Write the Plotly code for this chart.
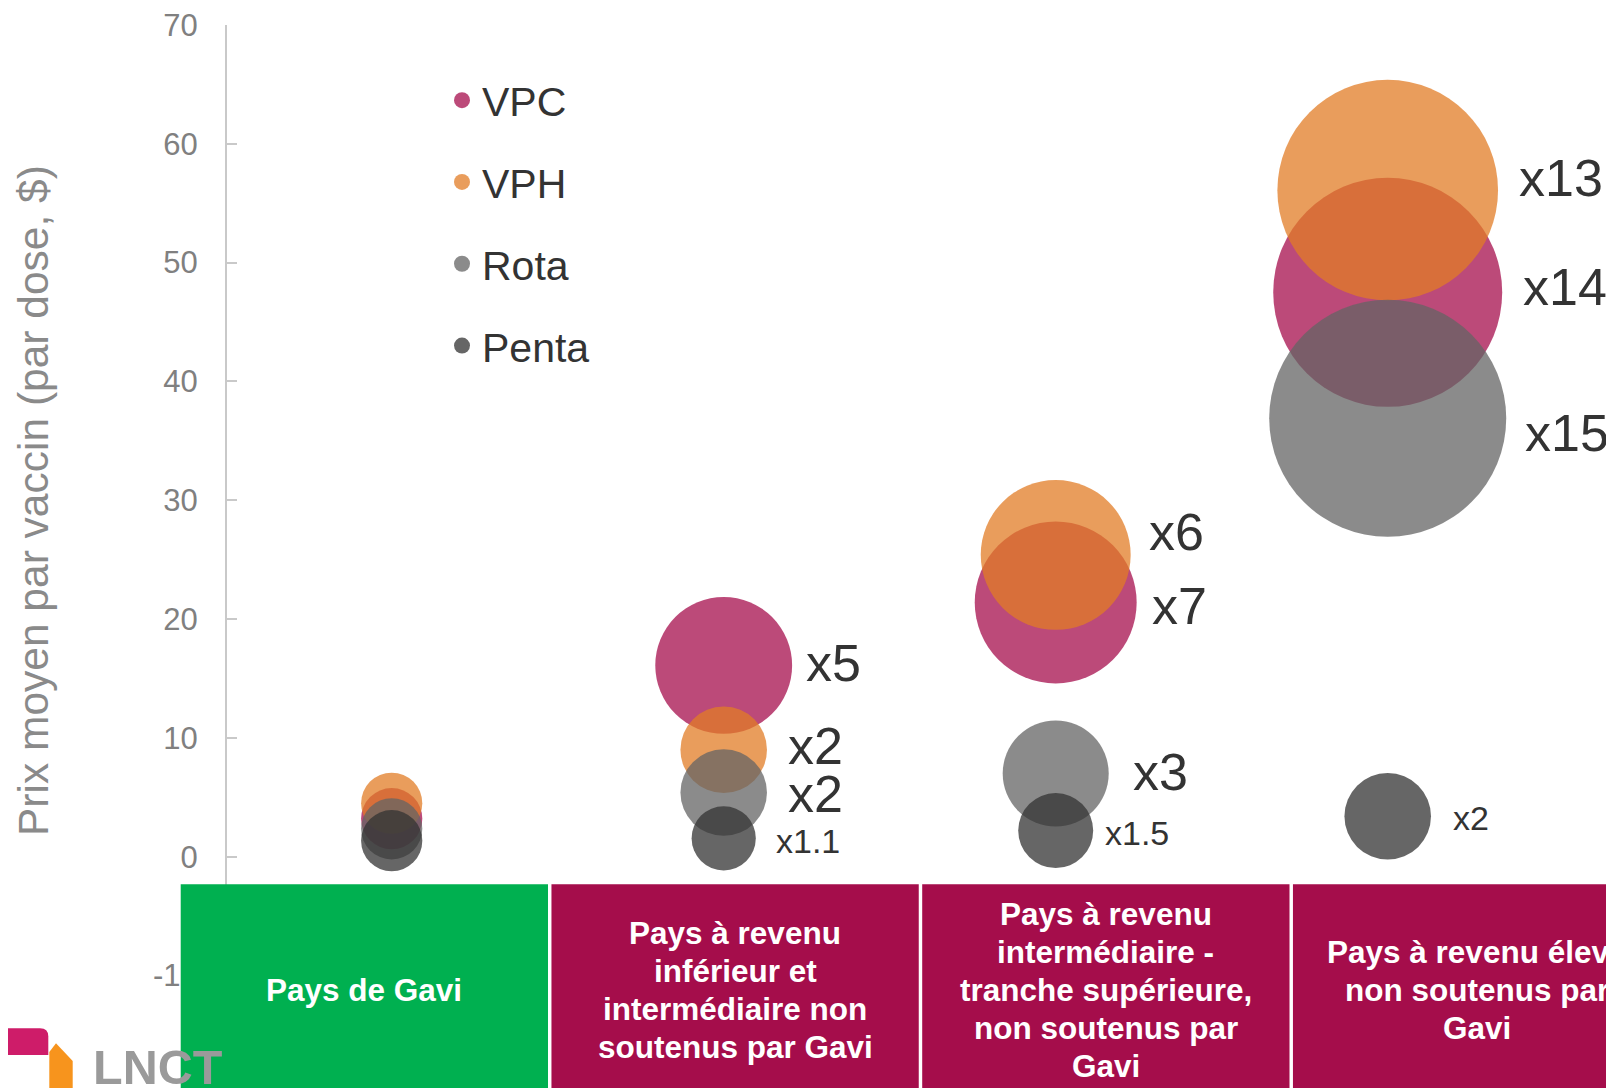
import plotly.graph_objects as go

# ---------------- data ----------------
group_pos = [1, 2, 3, 4]            # Gavi, LMIC non Gavi, UMIC non Gavi, HIC non Gavi
series_names = ["VPC", "VPH", "Rota", "Penta"]

vpc_price = [3.2, 16.1, 21.4, 47.5]
vph_price = [4.5, 9.0, 25.4, 56.1]
rota_price = [2.35, 5.4, 7.0, 36.9]
penta_price = [1.35, 1.55, 2.2, 3.4]

vpc_mult = [1, 5, 7, 14]
vph_mult = [1, 2, 6, 13]
rota_mult = [1, 2, 3, 15]
penta_mult = [1, 1.1, 1.5, 2]

vpc_labels = ["", "x5", "x7", "x14"]
vph_labels = ["", "x2", "x6", "x13"]
rota_labels = ["", "x2", "x3", "x15"]
penta_labels = ["", "x1.1", "x1.5", "x2"]

box_labels = [
    ["Pays de Gavi"],
    ["Pays à revenu", "inférieur et", "intermédiaire non", "soutenus par Gavi"],
    ["Pays à revenu", "intermédiaire -", "tranche supérieure,", "non soutenus par", "Gavi"],
    ["Pays à revenu élevé", "non soutenus par", "Gavi"],
]

y_tickvals = [-10, 0, 10, 20, 30, 40, 50, 60, 70]
y_title = "Prix moyen par vaccin (par dose, $)"
logo_text = "LNCT"

# ---------------- style ----------------
W, H = 1614, 1088
OFF = 8                     # page body margin of the browser
MT = 25 - OFF
FONT = "Liberation Sans, Arial, sans-serif"
colors = ["#A60E4C", "#E27C26", "#646464", "#333333"]
box_colors = ["#00B050", "#A50D4B", "#A50D4B", "#A50D4B"]
BUBBLE_K = 100.0           # size scale (keeps legend markers at max size)
DIAM_UNIT = 61.2           # px diameter for multiplier 1

# label offsets in px relative to bubble center (dx right, dy down)
label_dx = {
    "VPC": [0, 82, 95.8, 135.5],
    "VPH": [0, 64, 93.4, 131.5],
    "Rota": [0, 64, 77.4, 137.2],
    "Penta": [0, 52.3, 49.1, 65.5],
}
label_dy = {
    "VPC": [0, -2, 4, -5],
    "VPH": [0, -4, -23, -12],
    "Rota": [0, 1, -2, 15],
    "Penta": [0, 3, 2, 2],
}
label_size = {"VPC": 52, "VPH": 52, "Rota": 52, "Penta": 34}

box_left0, box_pitch, box_width = 0.3645, 1.1167, 1.1063
box_top, box_bottom = -2.32, -22.0
box_text_y = -11.22
box_line_px = 37.8

x_range = [-0.1557, 4.7057]
y_range = [-20.14, 70.001]


def pxx(px):
    return (px - OFF) / W


def pxy(py):
    return (H - (py - OFF)) / (H - MT)


prices = [vpc_price, vph_price, rota_price, penta_price]
mults = [vpc_mult, vph_mult, rota_mult, penta_mult]
labels = [vpc_labels, vph_labels, rota_labels, penta_labels]

fig = go.Figure()
for i, name in enumerate(series_names):
    fig.add_trace(go.Scatter(
        x=group_pos, y=prices[i], mode="markers", name=name,
        legendgroup=name,
        marker=dict(
            size=[m * BUBBLE_K for m in mults[i]],
            sizemode="area", sizeref=2 * BUBBLE_K / DIAM_UNIT ** 2,
            color=colors[i], opacity=0.75, line=dict(width=0),
        ),
        hoverinfo="skip",
    ))

annotations = []
# multiplier labels
for i, name in enumerate(series_names):
    for j, g in enumerate(group_pos):
        if not labels[i][j]:
            continue
        annotations.append(dict(
            x=g, y=prices[i][j], xref="x", yref="y", text=labels[i][j],
            showarrow=False, xanchor="left", yanchor="middle",
            xshift=label_dx[name][j] - 2, yshift=-label_dy[name][j],
            font=dict(family=FONT, size=label_size[name], color="#333333"),
        ))

shapes = []
# category boxes
for k, lines in enumerate(box_labels):
    x0 = box_left0 + k * box_pitch
    shapes.append(dict(type="rect", xref="x", yref="y", x0=x0, x1=x0 + box_width,
                       y0=box_bottom, y1=box_top, fillcolor=box_colors[k],
                       line=dict(width=0), layer="above"))
    n = len(lines)
    for li, t in enumerate(lines):
        annotations.append(dict(
            x=x0 + box_width / 2, y=box_text_y, xref="x", yref="y", text=f"<b>{t}</b>",
            showarrow=False, xanchor="center", yanchor="middle",
            yshift=-(li - (n - 1) / 2) * box_line_px,
            font=dict(family=FONT, size=31.5, color="#FFFFFF"),
        ))

# y-axis title
annotations.append(dict(
    x=pxx(33.7), y=pxy(500.3), xref="paper", yref="paper", text=y_title,
    textangle=-90, showarrow=False, xanchor="center", yanchor="middle",
    font=dict(family=FONT, size=42.5, color="#8a8a8a"),
))

# logo
pink_path = (f"M {pxx(-5)},{pxy(1028.3)} L {pxx(40)},{pxy(1028.3)} "
             f"Q {pxx(48.3)},{pxy(1028.3)} {pxx(48.3)},{pxy(1036.5)} "
             f"L {pxx(48.3)},{pxy(1055)} L {pxx(-5)},{pxy(1055)} Z")
shapes.append(dict(type="path", xref="paper", yref="paper", path=pink_path,
                   fillcolor="#CE1C69", line=dict(width=0), layer="above"))
orange_path = (f"M {pxx(49.3)},{pxy(1052)} L {pxx(56)},{pxy(1043.3)} "
               f"L {pxx(72.7)},{pxy(1061)} L {pxx(72.7)},{pxy(1100)} "
               f"L {pxx(49.3)},{pxy(1100)} Z")
shapes.append(dict(type="path", xref="paper", yref="paper", path=orange_path,
                   fillcolor="#F7941D", line=dict(width=0), layer="above"))
annotations.append(dict(
    x=pxx(91.3), y=pxy(1037.5), xref="paper", yref="paper", text=f"<b>{logo_text}</b>",
    showarrow=False, xanchor="left", yanchor="top",
    font=dict(family=FONT, size=48.5, color="#9A9A9A"),
))

fig.update_layout(
    width=W, height=H, autosize=False,
    margin=dict(l=0, r=0, t=MT, b=0, pad=0, autoexpand=False),
    paper_bgcolor="white", plot_bgcolor="white",
    xaxis=dict(domain=[0, 1], range=x_range, visible=False, fixedrange=True,
               automargin=False),
    yaxis=dict(
        anchor="free", position=pxx(226), range=y_range, automargin=False,
        tickvals=y_tickvals, ticktext=[str(v) for v in y_tickvals],
        showline=True, linecolor="#C9C9C9", linewidth=2,
        ticks="inside", ticklen=10, tickwidth=2, tickcolor="#C9C9C9",
        ticklabelstandoff=21, ticklabeloverflow="allow",
        tickfont=dict(family=FONT, size=31, color="#808080"),
        showgrid=False, zeroline=False, fixedrange=True,
    ),
    showlegend=True,
    legend=dict(
        x=pxx(442), y=pxy(67), xanchor="left", yanchor="top",
        traceorder="grouped", tracegroupgap=25.5,
        font=dict(family=FONT, size=41, color="#333333"),
        bgcolor="rgba(0,0,0,0)", borderwidth=0,
    ),
    shapes=shapes, annotations=annotations,
)

fig.write_html("out.html")
